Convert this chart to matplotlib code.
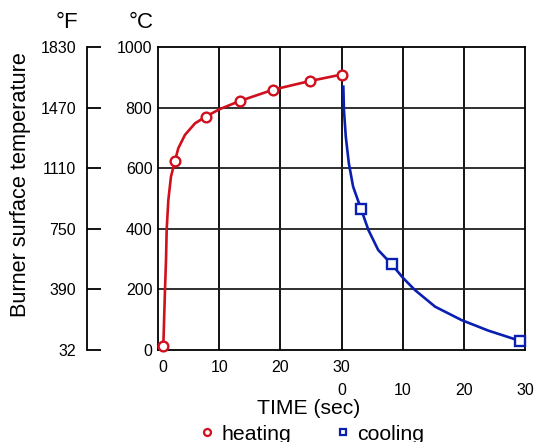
import matplotlib
matplotlib.use("Agg")
import matplotlib.pyplot as plt
from matplotlib.lines import Line2D

plt.rcParams['font.family'] = ['Liberation Sans', 'DejaVu Sans']

# x is in grid units: heating 0..30 s on the left half, cooling 0..30 s on the right half (offset 30)
heat_curve_x = [0.87, 1.03, 1.14, 1.31, 1.42, 1.69, 2.12, 2.78, 3.32, 4.41, 6.05,
                7.79, 10.1, 13.4, 17.5, 18.8, 24.9, 30.0]
heat_curve_y = [13, 121, 198, 297, 398, 495, 572, 625, 666, 710, 748,
                770, 795, 822, 850, 859, 888, 909]
heat_pts_x = [0.87, 2.78, 7.79, 13.4, 18.8, 24.9, 30.0]
heat_pts_y = [13, 625, 770, 822, 859, 888, 909]

cool_curve_x = [30.3, 30.4, 30.7, 31.2, 31.9, 33.2, 34.4, 36.0, 38.2, 40.1, 42.0,
                45.3, 49.6, 54.0, 59.2]
cool_curve_y = [869, 792, 704, 616, 539, 465, 396, 330, 283, 237, 198,
                143, 99, 64, 30]
cool_pts_x = [33.2, 38.2, 59.2]
cool_pts_y = [465, 283, 30]

c_ticks = [0, 200, 400, 600, 800, 1000]
f_labels = ['32', '390', '750', '1110', '1470', '1830']
heat_tick_pos = [0.8, 10, 20, 30]
cool_tick_pos = [30, 40, 50, 60]
time_labels = ['0', '10', '20', '30']

red = '#d0101c'
blue = '#0a1fb0'

fig = plt.figure(figsize=(5.37, 4.42), dpi=100)
ax = fig.add_axes([158/537, 1 - 350/442, (525-158)/537, (350-47)/442])
ax.set_xlim(0, 60)
ax.set_ylim(0, 1000)

for gx in range(10, 60, 10):
    ax.axvline(gx, color='black', lw=1.3, zorder=1)
for gy in [200, 400, 600, 800]:
    ax.axhline(gy, color='#202020', lw=1.3, zorder=1)
for s in ax.spines.values():
    s.set_linewidth(1.3)

ax.plot(heat_curve_x, heat_curve_y, color=red, lw=1.9, zorder=3)
ax.plot(heat_pts_x, heat_pts_y, 'o', ms=7, mfc='white', mec=red, mew=1.7,
        zorder=4, clip_on=False)
ax.plot(cool_curve_x, cool_curve_y, color=blue, lw=1.9, zorder=3)
ax.plot(cool_pts_x, cool_pts_y, 's', ms=6.5, mfc='white', mec=blue, mew=1.7,
        zorder=4, clip_on=False)

ax.set_yticks(c_ticks)
ax.set_yticklabels([str(v) for v in c_ticks])
ax.tick_params(axis='y', length=0, pad=4, labelsize=11.5)
ax.set_xticks(heat_tick_pos)
ax.set_xticklabels(time_labels)
ax.tick_params(axis='x', length=0, pad=7, labelsize=11.5)

sec = ax.secondary_xaxis('bottom')
sec.set_xticks(cool_tick_pos)
sec.set_xticklabels(time_labels)
sec.tick_params(axis='x', length=0, pad=24, labelsize=11.5)
sec.spines['bottom'].set_visible(False)

# Fahrenheit scale on the left
fax = fig.add_axes([87/537, 1 - 350/442, 0.001, (350-47)/442])
fax.set_ylim(0, 1000)
fax.set_xticks([])
for k in ['top', 'right', 'bottom']:
    fax.spines[k].set_visible(False)
fax.spines['left'].set_linewidth(1.3)
fax.set_yticks(c_ticks)
fax.set_yticklabels(f_labels)
fax.tick_params(axis='y', direction='in', length=10, width=1.3, pad=8, labelsize=11.5)
fax.patch.set_visible(False)

fig.text(67/537, 1 - 22/442, '°F', fontsize=16, ha='center', va='center')
fig.text(141/537, 1 - 22/442, '°C', fontsize=16, ha='center', va='center')
fig.text(21/537, 1 - 185/442, 'Burner surface temperature', fontsize=15.7,
         rotation=90, ha='center', va='center')
fig.text(309/537, 1 - 408/442, 'TIME (sec)', fontsize=15.2, ha='center', va='center')

handles = [
    Line2D([], [], ls='none', marker='o', ms=5, mfc='white', mec=red, mew=1.6),
    Line2D([], [], ls='none', marker='s', ms=5, mfc='white', mec=blue, mew=1.6),
]
fig.legend(handles, ['heating', 'cooling'], loc='center', ncol=2,
           bbox_to_anchor=(313/537, 1 - 434/442), frameon=False, fontsize=15.3,
           handlelength=0.5, handletextpad=0.4, columnspacing=2.2,
           borderaxespad=0, borderpad=0)

fig.savefig('out.png', dpi=100)
